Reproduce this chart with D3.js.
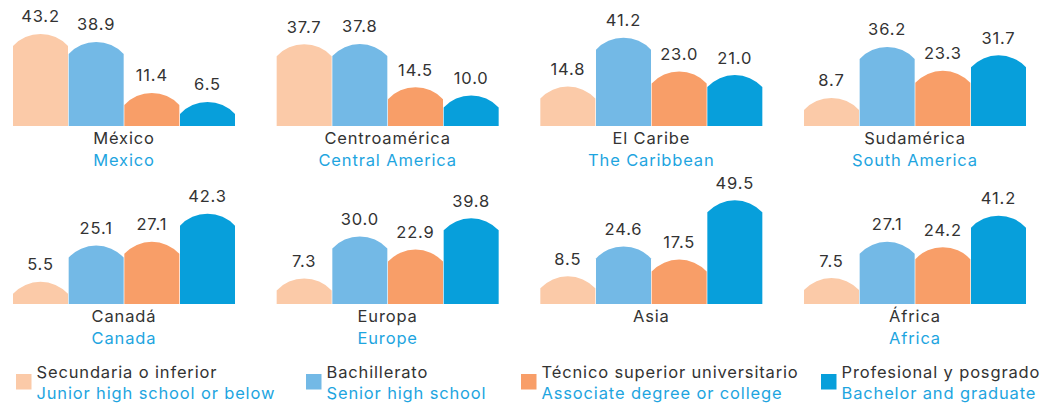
<!DOCTYPE html>
<html>
<head>
<meta charset="utf-8">
<script src="https://cdn.jsdelivr.net/npm/d3@7"></script>
<style>
  body { margin: 0; background: #fff; }
  text { font-family: Inter, "Open Sans", sans-serif; letter-spacing: 0.85px; }
</style>
</head>
<body>
<div id="chart"></div>
<script>
// regions (Spanish / English)
const regionsEs = ["México", "Centroamérica", "El Caribe", "Sudamérica", "Canadá", "Europa", "Asia", "África"];
const regionsEn = ["Mexico", "Central America", "The Caribbean", "South America", "Canada", "Europe", "", "Africa"];

// series, one value per region
const secundaria = [43.2, 37.7, 14.8, 8.7, 5.5, 7.3, 8.5, 7.5];
const bachillerato = [38.9, 37.8, 41.2, 36.2, 25.1, 30.0, 24.6, 27.1];
const tecnico = [11.4, 14.5, 23.0, 23.3, 27.1, 22.9, 17.5, 24.2];
const profesional = [6.5, 10.0, 21.0, 31.7, 42.3, 39.8, 49.5, 41.2];

const seriesEs = ["Secundaria o inferior", "Bachillerato", "Técnico superior universitario", "Profesional y posgrado"];
const seriesEn = ["Junior high school or below", "Senior high school", "Associate degree or college", "Bachelor and graduate"];
const colors = ["#fbcaa8", "#73b9e6", "#f89e68", "#079fdb"];

const allSeries = [secundaria, bachillerato, tecnico, profesional];

const width = 1053, height = 403;
const capH = 12;        // height of the rounded top
const fs = 16.5;
const darkText = "#333333", blueText = "#1ea5df";

const svg = d3.select("#chart").append("svg")
  .attr("width", width)
  .attr("height", height);

// panel layout: 4 columns x 2 rows
const col = d3.scaleBand().domain([0, 1, 2, 3]).range([13, 1026]).paddingInner(0.158);
const rowBase = [126, 304];

const x = d3.scaleBand().domain([0, 1, 2, 3]).range([0, col.bandwidth()]).paddingInner(0.012);
const h = d3.scaleLinear().domain([0, 50]).range([0, 92.6]);

function barPath(x0, w, base, hh) {
  const top = base - hh;
  const r = (w * w / 4 + capH * capH) / (2 * capH);
  return `M${x0},${base}L${x0},${top}A${r},${r} 0 0 1 ${x0 + w},${top}L${x0 + w},${base}Z`;
}

regionsEs.forEach((name, i) => {
  const cx = col(i % 4);
  const base = rowBase[Math.floor(i / 4)];
  const g = svg.append("g").attr("transform", `translate(${cx},0)`);

  const vals = allSeries.map((s, k) => ({ k: k, v: s[i] }));

  g.selectAll("path")
    .data(vals)
    .join("path")
    .attr("d", d => barPath(x(d.k), x.bandwidth(), base, h(d.v)))
    .attr("fill", d => colors[d.k]);

  g.selectAll("text.val")
    .data(vals)
    .join("text")
    .attr("class", "val")
    .attr("x", d => x(d.k) + x.bandwidth() / 2)
    .attr("y", d => base - h(d.v) - capH - 11.5)
    .attr("text-anchor", "middle")
    .attr("font-size", fs)
    .attr("fill", darkText)
    .text(d => d.v.toFixed(1));

  g.append("text")
    .attr("x", col.bandwidth() / 2)
    .attr("y", base + 18)
    .attr("text-anchor", "middle")
    .attr("font-size", fs)
    .attr("fill", darkText)
    .text(name);

  g.append("text")
    .attr("x", col.bandwidth() / 2)
    .attr("y", base + 39.5)
    .attr("text-anchor", "middle")
    .attr("font-size", fs)
    .attr("fill", blueText)
    .text(regionsEn[i]);
});

// legend
const legendX = [16, 306, 521, 821];
const legend = svg.append("g");
seriesEs.forEach((s, k) => {
  const lg = legend.append("g").attr("transform", `translate(${legendX[k]},0)`);
  lg.append("rect")
    .attr("x", 0).attr("y", 374)
    .attr("width", 15.5).attr("height", 15.5)
    .attr("fill", colors[k]);
  lg.append("text")
    .attr("x", 20.5).attr("y", 378)
    .attr("font-size", fs)
    .attr("fill", darkText)
    .text(s);
  lg.append("text")
    .attr("x", 20.5).attr("y", 399)
    .attr("font-size", fs)
    .attr("fill", blueText)
    .text(seriesEn[k]);
});
</script>
</body>
</html>
